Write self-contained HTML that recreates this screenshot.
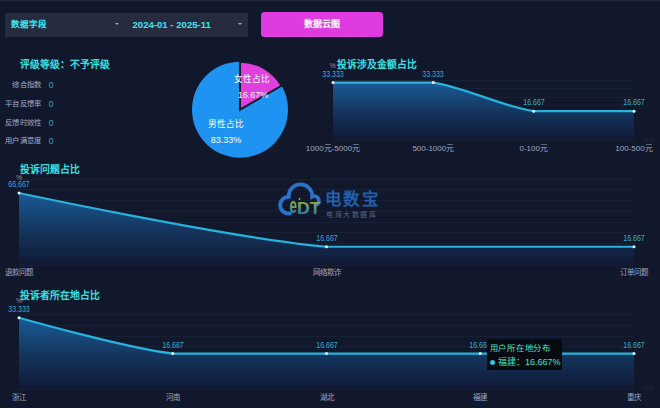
<!DOCTYPE html>
<html lang="zh-CN"><head><meta charset="utf-8">
<style>
html,body{margin:0;padding:0;}
body{width:660px;height:408px;overflow:hidden;background:#12182b;position:relative;font-family:"Liberation Sans",sans-serif;}
.abs{position:absolute;}
.topband{position:absolute;left:0;top:0;width:660px;height:1px;background:#22283a;border-bottom:1px solid #181d30;}
.sel{position:absolute;left:4.5px;top:12.6px;width:243.8px;height:24.4px;background:#262b40;}
.seltxt{position:absolute;top:11.5px;height:25px;line-height:25px;color:#3ee6ee;font-size:9px;font-weight:bold;white-space:nowrap;}
.arrow{position:absolute;width:0;height:0;border-left:2.6px solid transparent;border-right:2.6px solid transparent;border-top:2.8px solid #3ad6e0;}
.btn{position:absolute;left:261px;top:12.3px;width:122px;height:25px;background:#e03be0;border-radius:3.5px;color:#fff;font-size:9px;font-weight:bold;text-align:center;line-height:24px;}
.title{position:absolute;color:#38e0e6;font-weight:bold;font-size:9.8px;white-space:nowrap;line-height:12px;}
.lab{position:absolute;color:#a4aac6;font-size:7.4px;letter-spacing:0.35px;white-space:nowrap;line-height:10px;text-align:right;width:60px;}
.val{position:absolute;color:#3ca2b8;font-size:8.5px;line-height:10px;}
.vl{position:absolute;width:60px;text-align:center;color:#3aa9cc;font-size:8.4px;line-height:10px;white-space:nowrap;transform:scaleX(0.84);}
.xl{position:absolute;width:80px;text-align:center;color:#9ea7c2;font-size:8px;line-height:10px;white-space:nowrap;}
.pct{position:absolute;color:#8a90b0;font-size:7px;line-height:8px;}
.pie{position:absolute;color:#fff;font-weight:500;font-size:8.6px;line-height:10px;text-align:center;width:60px;white-space:nowrap;}
</style></head><body>
<div class="topband"></div>
<div class="sel"></div>
<div class="seltxt" style="left:10.8px;top:12.2px;font-size:8.5px">数据字段</div>
<div class="arrow" style="left:115.2px;top:23.2px"></div>
<div class="seltxt" style="left:132.5px;font-size:9.6px">2024-01 - 2025-11</div>
<div class="arrow" style="left:237.6px;top:23.2px"></div>
<div class="btn">数据云图</div>

<div class="title" style="left:20px;top:59px">评级等级：不予评级</div>
<div class="lab" style="left:-18.3px;top:80.1px">综合指数</div>
<div class="lab" style="left:-18.3px;top:98.9px">平台反馈率</div>
<div class="lab" style="left:-18.3px;top:117.8px">反馈时效性</div>
<div class="lab" style="left:-18.3px;top:136.4px">用户满意度</div>
<div class="val" style="left:48.8px;top:80.1px">0</div>
<div class="val" style="left:48.8px;top:98.9px">0</div>
<div class="val" style="left:48.8px;top:117.8px">0</div>
<div class="val" style="left:48.8px;top:136.4px">0</div>

<svg class="abs" style="left:0;top:0" width="660" height="408" viewBox="0 0 660 408">
<defs>
<linearGradient id="g1" gradientUnits="userSpaceOnUse" x1="0" y1="82.0" x2="0" y2="140.0"><stop offset="0" stop-color="#1a5c98"/><stop offset="0.5" stop-color="#14365f"/><stop offset="1" stop-color="#101834"/></linearGradient>
<linearGradient id="g2" gradientUnits="userSpaceOnUse" x1="0" y1="193.0" x2="0" y2="265.0"><stop offset="0" stop-color="#1a5c98"/><stop offset="0.5" stop-color="#14365f"/><stop offset="1" stop-color="#101834"/></linearGradient>
<linearGradient id="g3" gradientUnits="userSpaceOnUse" x1="0" y1="318.0" x2="0" y2="390.0"><stop offset="0" stop-color="#1a5c98"/><stop offset="0.5" stop-color="#14365f"/><stop offset="1" stop-color="#101834"/></linearGradient>
<linearGradient id="edt" gradientUnits="userSpaceOnUse" x1="0" y1="201" x2="0" y2="214"><stop offset="0" stop-color="#94aa3c"/><stop offset="0.5" stop-color="#5e9a7e"/><stop offset="1" stop-color="#2f7aa4"/></linearGradient>
<linearGradient id="edt3" gradientUnits="userSpaceOnUse" x1="0" y1="-12" x2="0" y2="1"><stop offset="0" stop-color="#94aa3c"/><stop offset="0.5" stop-color="#5e9a7e"/><stop offset="1" stop-color="#2f7aa4"/></linearGradient>
<linearGradient id="edt2" gradientUnits="userSpaceOnUse" x1="0" y1="201" x2="0" y2="214"><stop offset="0" stop-color="#94aa3c"/><stop offset="0.5" stop-color="#5e9a7e"/><stop offset="1" stop-color="#2f7aa4"/></linearGradient>
</defs>
<!-- pie -->
<circle cx="240" cy="109.7" r="48" fill="#1f93f2"/>
<path d="M240,109.7 L240,61.7 A48,48 0 0 1 281.57,85.7 Z" fill="#e040dc" stroke="#12182b" stroke-width="2" stroke-linejoin="miter"/>

<g stroke="#141b2d" stroke-width="1"><line x1="333.0" y1="140.50" x2="634.0" y2="140.50"/><line x1="333.0" y1="131.50" x2="634.0" y2="131.50"/><line x1="333.0" y1="123.50" x2="634.0" y2="123.50"/><line x1="333.0" y1="114.50" x2="634.0" y2="114.50"/><line x1="333.0" y1="105.50" x2="634.0" y2="105.50"/><line x1="333.0" y1="97.50" x2="634.0" y2="97.50"/><line x1="333.0" y1="88.50" x2="634.0" y2="88.50"/><line x1="333.0" y1="80.50" x2="634.0" y2="80.50"/></g>
<path d="M333.00,82.60 C333.00,82.60 403.82,82.60 433.33,82.60 C464.02,86.97 502.98,106.83 533.67,111.20 C563.18,111.20 634.00,111.20 634.00,111.20 L634.00,139.80 L333.00,139.80 Z" fill="url(#g1)"/>
<g stroke="rgba(40,60,100,0.18)" stroke-width="1"><line x1="333.0" y1="140.50" x2="634.0" y2="140.50"/><line x1="333.0" y1="131.50" x2="634.0" y2="131.50"/><line x1="333.0" y1="123.50" x2="634.0" y2="123.50"/><line x1="333.0" y1="114.50" x2="634.0" y2="114.50"/><line x1="333.0" y1="105.50" x2="634.0" y2="105.50"/><line x1="333.0" y1="97.50" x2="634.0" y2="97.50"/><line x1="333.0" y1="88.50" x2="634.0" y2="88.50"/><line x1="333.0" y1="80.50" x2="634.0" y2="80.50"/></g>
<path d="M333.00,82.60 C333.00,82.60 403.82,82.60 433.33,82.60 C464.02,86.97 502.98,106.83 533.67,111.20 C563.18,111.20 634.00,111.20 634.00,111.20" fill="none" stroke="#28b2de" stroke-width="2.2"/>
<circle cx="333.00" cy="82.60" r="1.5" fill="#dff6ff"/>
<circle cx="433.33" cy="82.60" r="1.5" fill="#dff6ff"/>
<circle cx="533.67" cy="111.20" r="1.5" fill="#dff6ff"/>
<circle cx="634.00" cy="111.20" r="1.5" fill="#dff6ff"/>
<g stroke="#141b2d" stroke-width="1"><line x1="19.0" y1="265.50" x2="634.0" y2="265.50"/><line x1="19.0" y1="254.50" x2="634.0" y2="254.50"/><line x1="19.0" y1="243.50" x2="634.0" y2="243.50"/><line x1="19.0" y1="232.50" x2="634.0" y2="232.50"/><line x1="19.0" y1="222.50" x2="634.0" y2="222.50"/><line x1="19.0" y1="211.50" x2="634.0" y2="211.50"/><line x1="19.0" y1="200.50" x2="634.0" y2="200.50"/><line x1="19.0" y1="189.50" x2="634.0" y2="189.50"/><line x1="19.0" y1="179.50" x2="634.0" y2="179.50"/></g>
<path d="M19.00,192.97 C19.00,192.97 233.55,238.64 326.50,246.77 C418.05,246.77 634.00,246.77 634.00,246.77 L634.00,264.70 L19.00,264.70 Z" fill="url(#g2)"/>
<g stroke="rgba(40,60,100,0.18)" stroke-width="1"><line x1="19.0" y1="265.50" x2="634.0" y2="265.50"/><line x1="19.0" y1="254.50" x2="634.0" y2="254.50"/><line x1="19.0" y1="243.50" x2="634.0" y2="243.50"/><line x1="19.0" y1="232.50" x2="634.0" y2="232.50"/><line x1="19.0" y1="222.50" x2="634.0" y2="222.50"/><line x1="19.0" y1="211.50" x2="634.0" y2="211.50"/><line x1="19.0" y1="200.50" x2="634.0" y2="200.50"/><line x1="19.0" y1="189.50" x2="634.0" y2="189.50"/><line x1="19.0" y1="179.50" x2="634.0" y2="179.50"/></g>
<path d="M19.00,192.97 C19.00,192.97 233.55,238.64 326.50,246.77 C418.05,246.77 634.00,246.77 634.00,246.77" fill="none" stroke="#28b2de" stroke-width="2.2"/>
<circle cx="19.00" cy="192.97" r="1.5" fill="#dff6ff"/>
<circle cx="326.50" cy="246.77" r="1.5" fill="#dff6ff"/>
<circle cx="634.00" cy="246.77" r="1.5" fill="#dff6ff"/>
<g stroke="#141b2d" stroke-width="1"><line x1="19.0" y1="389.50" x2="634.0" y2="389.50"/><line x1="19.0" y1="379.50" x2="634.0" y2="379.50"/><line x1="19.0" y1="368.50" x2="634.0" y2="368.50"/><line x1="19.0" y1="357.50" x2="634.0" y2="357.50"/><line x1="19.0" y1="346.50" x2="634.0" y2="346.50"/><line x1="19.0" y1="336.50" x2="634.0" y2="336.50"/><line x1="19.0" y1="325.50" x2="634.0" y2="325.50"/><line x1="19.0" y1="314.50" x2="634.0" y2="314.50"/></g>
<path d="M19.00,317.80 C19.00,317.80 126.02,348.16 172.75,353.60 C218.27,353.60 280.38,353.60 326.50,353.60 C372.62,353.60 434.12,353.60 480.25,353.60 C526.38,353.60 634.00,353.60 634.00,353.60 L634.00,389.40 L19.00,389.40 Z" fill="url(#g3)"/>
<g stroke="rgba(40,60,100,0.18)" stroke-width="1"><line x1="19.0" y1="389.50" x2="634.0" y2="389.50"/><line x1="19.0" y1="379.50" x2="634.0" y2="379.50"/><line x1="19.0" y1="368.50" x2="634.0" y2="368.50"/><line x1="19.0" y1="357.50" x2="634.0" y2="357.50"/><line x1="19.0" y1="346.50" x2="634.0" y2="346.50"/><line x1="19.0" y1="336.50" x2="634.0" y2="336.50"/><line x1="19.0" y1="325.50" x2="634.0" y2="325.50"/><line x1="19.0" y1="314.50" x2="634.0" y2="314.50"/></g>
<path d="M19.00,317.80 C19.00,317.80 126.02,348.16 172.75,353.60 C218.27,353.60 280.38,353.60 326.50,353.60 C372.62,353.60 434.12,353.60 480.25,353.60 C526.38,353.60 634.00,353.60 634.00,353.60" fill="none" stroke="#28b2de" stroke-width="2.2"/>
<circle cx="19.00" cy="317.80" r="1.5" fill="#dff6ff"/>
<circle cx="172.75" cy="353.60" r="1.5" fill="#dff6ff"/>
<circle cx="326.50" cy="353.60" r="1.5" fill="#dff6ff"/>
<circle cx="480.25" cy="353.60" r="1.5" fill="#dff6ff"/>
<circle cx="634.00" cy="353.60" r="1.5" fill="#dff6ff"/>
<!-- logo -->
<path d="M290.06,213.47 A8.4,8.4 0 1 1 288.72,196.8 A11.8,11.8 0 1 1 312.29,196.66 A4.6,4.6 0 0 1 317.26,204.32" fill="none" stroke="#2a72cc" stroke-width="3.8" stroke-linecap="round"/>
<text x="0" y="0" transform="translate(289.6,213.4) scale(0.6,1)" font-family="Liberation Sans" font-weight="bold" font-size="22" fill="url(#edt3)">e</text>
<text x="297" y="213.6" font-family="Liberation Sans" font-weight="bold" font-size="17" textLength="23.5" lengthAdjust="spacingAndGlyphs" fill="url(#edt2)">DT</text>
<circle cx="299.5" cy="199" r="0.9" fill="#9fc050"/>
</svg>

<div class="abs" style="left:325px;top:189px;color:#2160b0;font-size:16.5px;font-weight:bold;line-height:20px;letter-spacing:1.4px;white-space:nowrap">电数宝</div>
<div class="abs" style="left:326px;top:210px;color:#56698a;font-size:7px;line-height:9px;letter-spacing:1.6px;white-space:nowrap">电商大数据库</div>

<div class="pie" style="left:221.5px;top:73.7px">女性占比</div>
<div class="pie" style="left:223px;top:90px;font-size:9px">16.67%</div>
<div class="pie" style="left:196px;top:118.7px">男性占比</div>
<div class="pie" style="left:196px;top:134.7px;font-size:9px">83.33%</div>

<div class="title" style="left:336.5px;top:59.4px">投诉涉及金额占比</div>
<div class="pct" style="left:329.5px;top:62px">%</div>
<div class="vl" style="left:303.0px;top:68.7px">33.333</div>
<div class="vl" style="left:403.3px;top:68.7px">33.333</div>
<div class="vl" style="left:503.7px;top:97.3px">16.667</div>
<div class="vl" style="left:604.0px;top:97.3px">16.667</div>
<div class="xl" style="left:293.0px;top:143.5px;font-size:8px">1000元-5000元</div>
<div class="xl" style="left:393.3px;top:143.5px;font-size:8px">500-1000元</div>
<div class="xl" style="left:493.7px;top:143.5px;font-size:8px">0-100元</div>
<div class="xl" style="left:594.0px;top:143.5px;font-size:8px">100-500元</div>

<div class="title" style="left:20.3px;top:164.4px">投诉问题占比</div>
<div class="pct" style="left:16px;top:174.3px">%</div>
<div class="vl" style="left:-11.0px;top:179.1px">66.667</div>
<div class="vl" style="left:296.5px;top:232.9px">16.667</div>
<div class="vl" style="left:604.0px;top:232.9px">16.667</div>
<div class="xl" style="left:-21.0px;top:268.4px;font-size:7.5px">退款问题</div>
<div class="xl" style="left:286.5px;top:268.4px;font-size:7.5px">网络欺诈</div>
<div class="xl" style="left:594.0px;top:268.4px;font-size:7.5px">订单问题</div>

<div class="title" style="left:20px;top:290.4px">投诉者所在地占比</div>
<div class="pct" style="left:16px;top:296.5px">%</div>
<div class="vl" style="left:-11.0px;top:303.9px">33.333</div>
<div class="vl" style="left:142.8px;top:339.7px">16.667</div>
<div class="vl" style="left:296.5px;top:339.7px">16.667</div>
<div class="vl" style="left:450.2px;top:339.7px">16.667</div>
<div class="vl" style="left:604.0px;top:339.7px">16.667</div>
<div class="xl" style="left:-21.0px;top:393.2px;font-size:7.5px">浙江</div>
<div class="xl" style="left:132.8px;top:393.2px;font-size:7.5px">河南</div>
<div class="xl" style="left:286.5px;top:393.2px;font-size:7.5px">湖北</div>
<div class="xl" style="left:440.2px;top:393.2px;font-size:7.5px">福建</div>
<div class="xl" style="left:594.0px;top:393.2px;font-size:7.5px">重庆</div>

<div class="abs" style="left:643px;top:136px;color:#1d2437;font-size:6px;line-height:8px">金额</div>
<div class="abs" style="left:643px;top:384px;color:#1d2437;font-size:6px;line-height:8px">地区</div>

<div class="abs" style="left:487px;top:339px;width:75px;height:31px;background:#070b10;"></div>
<div class="abs" style="left:489.8px;top:343.1px;color:#40e4d4;font-size:8.35px;letter-spacing:0.7px;line-height:11px;white-space:nowrap">用户所在地分布</div>
<div class="abs" style="left:490px;top:360px;width:5px;height:5px;border-radius:50%;background:#2ec4e0"></div>
<div class="abs" style="left:498px;top:357px;color:#40e4d4;font-size:9px;line-height:11px;white-space:nowrap">福建：16.667%</div>
</body></html>
